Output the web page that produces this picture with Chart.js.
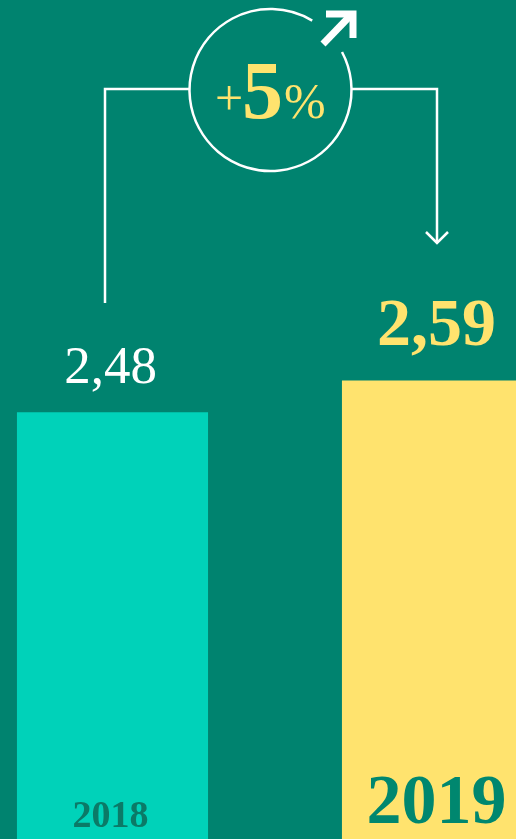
<!DOCTYPE html>
<html>
<head>
<meta charset="utf-8">
<script src="https://cdn.jsdelivr.net/npm/chart.js@4"></script>
<style>
  html, body { margin: 0; padding: 0; background: #00836f; overflow: hidden; }
  #wrap { position: relative; width: 516px; height: 839px; overflow: hidden; }
  #chart { position: absolute; left: -50px; top: 0; }
</style>
</head>
<body>
<div id="wrap"><canvas id="chart" width="650" height="839"></canvas></div>
<script>
const years = ['2018', '2019'];
const values = [2.48, 2.59];
const barColors = ['#00d2b9', '#ffe36e'];
const changeSign = '+';
const changeValue = '5';
const changeUnit = '%';

const SHIFT = 50; // canvas sits 50px left of the page
const SERIF = "'Liberation Serif', 'DejaVu Serif', serif";

const fmt = v => v.toFixed(2).replace('.', ',');

/* ── labels + connector drawn over the bars ───────────────────────── */
const overlay = {
  id: 'overlay',
  afterDatasetsDraw(chart) {
    const { ctx } = chart;
    const bars = chart.getDatasetMeta(0).data;
    const p = x => x + SHIFT;

    ctx.save();
    ctx.textAlign = 'center';
    ctx.textBaseline = 'alphabetic';

    // value labels
    ctx.fillStyle = '#ffffff';
    ctx.font = `53px ${SERIF}`;
    ctx.fillText(fmt(values[0]), bars[0].x - 2, bars[0].y - 29);
    ctx.fillStyle = '#ffe36e';
    ctx.font = `bold 68px ${SERIF}`;
    ctx.fillText(fmt(values[1]), bars[1].x - 1, bars[1].y - 36);

    // year labels inside the bars
    ctx.fillStyle = '#0b7a67';
    ctx.font = `bold 38px ${SERIF}`;
    ctx.fillText(years[0], bars[0].x - 2, 827);
    ctx.fillStyle = '#00876f';
    ctx.font = `bold 70px ${SERIF}`;
    ctx.fillText(years[1], bars[1].x - 1, 823);

    // connector lines
    const cx = p(270.5), cy = 90, r = 81;
    ctx.strokeStyle = '#ffffff';
    ctx.lineWidth = 2.5;
    ctx.beginPath();
    ctx.moveTo(p(105), 303);
    ctx.lineTo(p(105), 89);
    ctx.lineTo(cx - r, 89);
    ctx.moveTo(cx + r, 89);
    ctx.lineTo(p(437), 89);
    ctx.lineTo(p(437), 242);
    ctx.stroke();
    ctx.beginPath();
    ctx.moveTo(p(426), 232);
    ctx.lineTo(p(437), 243);
    ctx.lineTo(p(448), 232);
    ctx.stroke();

    // circle with a gap for the arrow
    ctx.beginPath();
    ctx.arc(cx, cy, r, -28 * Math.PI / 180, (360 - 59) * Math.PI / 180);
    ctx.stroke();

    // up-right arrow
    ctx.lineWidth = 7;
    ctx.lineCap = 'butt';
    ctx.lineJoin = 'miter';
    ctx.beginPath();
    ctx.moveTo(p(323), 44);
    ctx.lineTo(p(350), 16);
    ctx.stroke();
    ctx.beginPath();
    ctx.moveTo(p(326), 14);
    ctx.lineTo(p(353), 14);
    ctx.lineTo(p(353), 38);
    ctx.stroke();

    // +5%
    ctx.fillStyle = '#ffe36e';
    ctx.textAlign = 'left';
    ctx.font = `50px ${SERIF}`;
    ctx.fillText(changeSign, p(215), 115);
    ctx.font = `bold 82px ${SERIF}`;
    ctx.fillText(changeValue, p(242), 118);
    ctx.font = `50px ${SERIF}`;
    ctx.fillText(changeUnit, p(284), 118);
    ctx.restore();
  },
};

new Chart(document.getElementById('chart'), {
  type: 'bar',
  data: {
    labels: years,
    datasets: [{
      data: values,
      backgroundColor: barColors,
      borderWidth: 0,
      categoryPercentage: 1,
      barPercentage: 0.588,
    }],
  },
  options: {
    responsive: false,
    animation: false,
    layout: { padding: 0 },
    plugins: { legend: { display: false }, tooltip: { enabled: false } },
    scales: {
      x: { display: false },
      y: { display: false, min: 1, max: 3.91 },
    },
  },
  plugins: [overlay],
});
</script>
</body>
</html>
